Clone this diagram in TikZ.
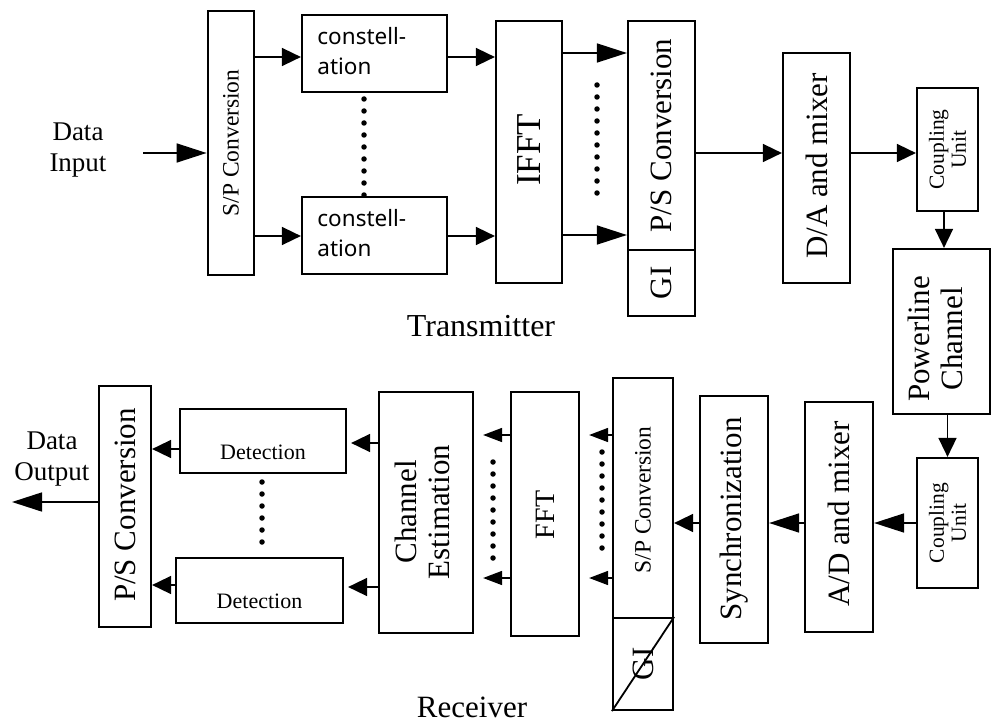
\documentclass[tikz,border=0pt]{standalone}
\usepackage{fontspec}
\setmainfont{Liberation Serif}
\newfontfamily\sansf{Noto Sans}
\usetikzlibrary{arrows.meta}
\tikzset{
  box/.style={draw, line width=2.2pt, inner sep=0pt},
  arr/.style={line width=1.6pt, -{Triangle[length=19pt,width=18pt]}},
  arrL/.style={line width=1.6pt, -{Triangle[length=30pt,width=19pt]}},
  arrS/.style={line width=1.6pt, -{Triangle[length=19pt,width=14pt]}},
  dotln/.style={line width=5.5pt, line cap=round, dash pattern=on 0pt off 12pt},
  big/.style={font=\fontsize{31}{33}\selectfont},
  mid/.style={font=\fontsize{22}{24}\selectfont},
  sm/.style={font=\fontsize{21.5}{22}\selectfont, align=center},
}
\begin{document}
\begin{tikzpicture}[x=1pt,y=-1pt]
\useasboundingbox (0,0) rectangle (992,722);
% ---------------- transmitter ----------------
\node[box, line width=2.8pt, minimum width=46pt, minimum height=264pt] (sptx) at (231,143) {};
\node[font=\fontsize{23.5}{25}\selectfont, rotate=90] (sptxl) at (sptx.center) {S/P Conversion};
\node[box, minimum width=145pt, minimum height=77pt] (c1) at (374.5,53.5) {};
\node[box, minimum width=145pt, minimum height=77pt] (c2) at (374.5,235.5) {};
\node[anchor=west, align=left, font=\sansf\fontsize{22.5}{30}\selectfont] (c1l) at ([xshift=13pt,yshift=2pt]c1.west) {constell-\\ation};
\node[anchor=west, align=left, font=\sansf\fontsize{22.5}{30}\selectfont] (c2l) at ([xshift=13pt,yshift=2pt]c2.west) {constell-\\ation};
\node[box, minimum width=66pt, minimum height=262pt] (ifft) at (529,152) {};
\node[font=\fontsize{35}{37}\selectfont, rotate=90] (ifftl) at (529,150) {IFFT};
\node[box, minimum width=67pt, minimum height=229pt] (pstx) at (661.5,135.5) {};
\node[big, rotate=90] (pstxl) at (pstx.center) {P/S Conversion};
\node[box, minimum width=67pt, minimum height=66pt] (gitx) at (661.5,283) {};
\node[big, rotate=90] (gitxl) at (gitx.center) {GI};
\node[box, minimum width=67pt, minimum height=230pt] (da) at (816.5,168) {};
\node[big, rotate=90] (dal) at (816.5,166) {D/A and mixer};
\node[box, minimum width=61pt, minimum height=123pt] (cu1) at (947.5,149.5) {};
\node[sm, rotate=90] (cu1l) at (cu1.center) {Coupling\\Unit};
\node[box, minimum width=97pt, minimum height=165pt] (pl) at (941.5,331.5) {};
\node[big, rotate=90, align=center] (pll) at (935,339) {Powerline\\Channel};
\node[font=\fontsize{27}{31}\selectfont, align=center] (din) at (78,150) {Data\\Input};
\node[font=\fontsize{32}{34}\selectfont] (tx) at (481,326) {Transmitter};
% levels
\coordinate (inp) at (143,153);
\coordinate (yA) at (0,57);
\coordinate (yB) at (0,236);
\coordinate (yC) at (0,53);
\coordinate (yD) at (0,235);
\coordinate (yE) at (0,153);
\coordinate (xA) at (944,0);
\draw[arrL] (inp) -- (inp -| sptx.west);
\draw[arr] (sptx.east |- yA) -- (c1.west |- yA);
\draw[arr] (sptx.east |- yB) -- (c2.west |- yB);
\draw[arr] (c1.east |- yA) -- (ifft.west |- yA);
\draw[arr] (c2.east |- yB) -- (ifft.west |- yB);
\draw[arrL] (ifft.east |- yC) -- (pstx.west |- yC);
\draw[arrL] (ifft.east |- yD) -- (pstx.west |- yD);
\draw[arr] (pstx.east |- yE) -- (da.west |- yE);
\draw[arr] (da.east |- yE) -- (cu1.west |- yE);
\draw[arr] (cu1.south -| xA) -- (pl.north -| xA);
\draw[dotln] (364,99) -- (364,195);
\draw[dotln] (597,85) -- (597,197);
% ---------------- receiver ----------------
\node[box, minimum width=61pt, minimum height=130pt] (cu2) at (947.5,523) {};
\node[sm, rotate=90] (cu2l) at (cu2.center) {Coupling\\Unit};
\node[box, minimum width=68pt, minimum height=230pt] (ad) at (839,517) {};
\node[big, rotate=90] (adl) at (839,514) {A/D and mixer};
\node[box, minimum width=68pt, minimum height=247pt] (sync) at (734,519.5) {};
\node[big, rotate=90] (syncl) at (734,519) {Synchronization};
\node[box, minimum width=60pt, minimum height=240pt] (sprx) at (643,498) {};
\node[font=\fontsize{23.5}{25}\selectfont, rotate=90] (sprxl) at (643,500) {S/P Conversion};
\node[box, minimum width=60pt, minimum height=92pt] (girx) at (643,664) {};
\node[big, rotate=90] (girxl) at (643,664) {GI};
\draw[line width=1.8pt] (girx.south west) -- (girx.north east);
\node[box, minimum width=68pt, minimum height=244pt] (fft) at (545,514) {};
\node[font=\fontsize{28}{30}\selectfont, rotate=90] (fftl) at (545,515) {FFT};
\node[box, minimum width=94pt, minimum height=241pt] (ce) at (426,512.5) {};
\node[big, rotate=90, align=center] (cel) at (422,512) {Channel\\Estimation};
\node[box, minimum width=166pt, minimum height=64pt] (d1) at (263,441) {};
\node[mid] (d1l) at (263,452) {Detection};
\node[box, minimum width=167pt, minimum height=65pt] (d2) at (259.5,590.5) {};
\node[mid] (d2l) at (259.5,601) {Detection};
\node[box, minimum width=52pt, minimum height=241pt] (psrx) at (125,506.5) {};
\node[big, rotate=90] (psrxl) at (125,505) {P/S Conversion};
\node[font=\fontsize{27}{31}\selectfont, align=center] (dout) at (52,459) {Data\\Output};
\node[font=\fontsize{31}{33}\selectfont] (rx) at (472,707) {Receiver};
\coordinate (outp) at (12,502);
\coordinate (yF) at (0,435);
\coordinate (yG) at (0,578);
\coordinate (yH) at (0,443);
\coordinate (yI) at (0,587);
\coordinate (yJ) at (0,449);
\coordinate (yK) at (0,585);
\draw[arr] (pl.south -| cu2.north) -- (cu2.north);
\draw[arrL] (cu2.west) -- (cu2.west -| ad.east);
\draw[arrL] (ad.west |- cu2.west) -- (sync.east |- cu2.west);
\draw[arr] (sync.west |- cu2.west) -- (sprx.east |- cu2.west);
\draw[arrS, shorten >=9pt] (sprx.west |- yF) -- (fft.east |- yF);
\draw[arrS, shorten >=9pt] (sprx.west |- yG) -- (fft.east |- yG);
\draw[arrS, shorten >=9pt] (fft.west |- yF) -- (ce.east |- yF);
\draw[arrS, shorten >=9pt] (fft.west |- yG) -- (ce.east |- yG);
\draw[arr, shorten >=4pt] (ce.west |- yH) -- (d1.east |- yH);
\draw[arr, shorten >=4pt] (ce.west |- yI) -- (d2.east |- yI);
\draw[arr] (d1.west |- yJ) -- (psrx.east |- yJ);
\draw[arr] (d2.west |- yK) -- (psrx.east |- yK);
\draw[arrL] (psrx.west |- outp) -- (outp);
\draw[dotln] (602,452) -- (602,552);
\draw[dotln] (493,462) -- (493,558);
\draw[dotln] (262,482) -- (262,547);
\end{tikzpicture}
\end{document}
